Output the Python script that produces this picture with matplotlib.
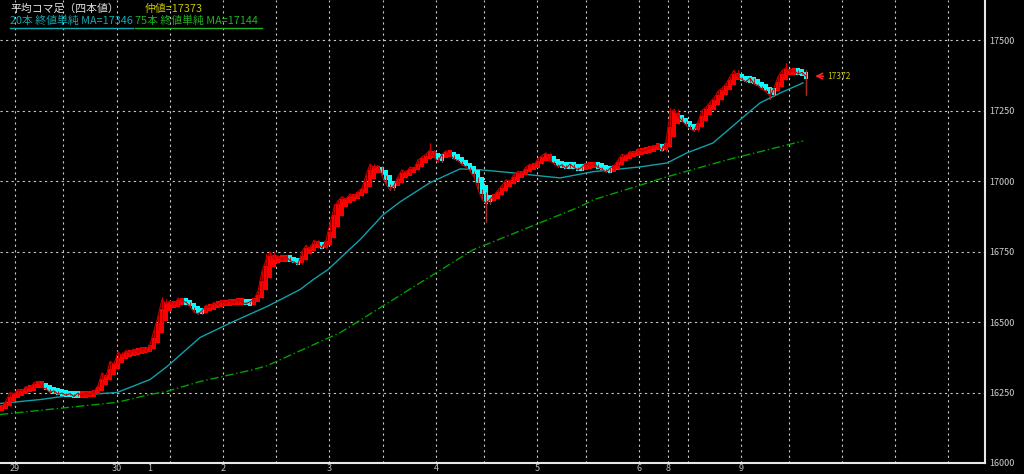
import matplotlib
matplotlib.use("Agg")
import matplotlib.pyplot as plt
from matplotlib.lines import Line2D

plt.rcParams['font.family'] = ['Noto Sans CJK JP', 'DejaVu Sans']

# raw closing prices, one per bar (thin red line)
closes = [
    16200, 16220, 16250, 16245, 16262, 16255, 16272, 16265, 16285, 16290,
    16268, 16262, 16250, 16256, 16244, 16248, 16240, 16246, 16236, 16248,
    16238, 16250, 16242, 16255, 16275, 16320, 16305, 16360, 16350, 16395,
    16380, 16400, 16388, 16405, 16392, 16410, 16398, 16420, 16470, 16520,
    16580, 16565, 16575, 16560, 16585, 16575, 16570, 16555, 16535, 16528,
    16540, 16560, 16552, 16570, 16562, 16575, 16565, 16578, 16568, 16580,
    16570, 16565, 16572, 16580, 16610, 16680, 16720, 16750, 16722, 16735,
    16720, 16732, 16718, 16712, 16705, 16750, 16772, 16760, 16790, 16778,
    16762, 16790, 16850, 16905, 16930, 16945, 16935, 16955, 16945, 16962,
    16975, 17020, 17060, 17045, 17055, 17020, 16990, 16968, 16985, 17015,
    17040, 17030, 17050, 17045, 17075, 17085, 17095, 17110, 17085, 17068,
    17095, 17108, 17092, 17078, 17072, 17058, 17050, 17035, 17015, 16970,
    16935, 16920, 16935, 16950, 16968, 16985, 17005, 17000, 17025, 17035,
    17030, 17050, 17060, 17055, 17080, 17090, 17100, 17070, 17062, 17050,
    17058, 17045, 17060, 17048, 17040, 17050, 17062, 17055, 17062, 17048,
    17042, 17032, 17045, 17055, 17075, 17095, 17090, 17105, 17100, 17115,
    17105, 17112, 17118, 17125, 17128, 17108, 17140, 17240, 17255, 17228,
    17212, 17198, 17185, 17178, 17210, 17250, 17262, 17280, 17295, 17318,
    17330, 17345, 17370, 17392, 17368, 17360, 17352, 17365, 17345, 17338,
    17325, 17318, 17300, 17330, 17370, 17392, 17402, 17388, 17392, 17380,
    17385, 17372,
]
# long shadows seen on a few bars: bar -> (high, low)
wicks = {121: (16960, 16855), 192: (17330, 17290), 201: (17395, 17305),
         83: (16920, 16840), 167: (17260, 17130), 40: (16590, 16500),
         107: (17135, 17090), 196: (17420, 17380), 66: (16740, 16650)}

ma20_bar = [-0.5, 9.5, 15.25, 24.5, 28.75, 37, 41.25, 49.5, 57.75, 66.25, 74.5,
            77.75, 81.5, 89.5, 95.25, 99.5, 107, 114.5, 119.5, 127.75, 132,
            139.5, 147.75, 159.5, 166.25, 171.25, 177.75, 184.5, 189.5, 194.5, 200.25]
ma20_val = [16211, 16225, 16236, 16246, 16250, 16296, 16342, 16445, 16501, 16555, 16615,
            16650, 16686, 16792, 16880, 16926, 16994, 17043, 17040, 17029, 17022,
            17011, 17033, 17050, 17064, 17100, 17135, 17217, 17277, 17312, 17348]
ma75_bar = [-0.5, 28.75, 37, 41.25, 49.5, 62.75, 66.25, 84.5, 117.75, 144.5, 147.75,
            166.25, 181.25, 200.25]
ma75_val = [16172, 16215, 16243, 16254, 16289, 16331, 16345, 16462, 16756, 16909, 16933,
            17015, 17075, 17142]

grid_bars = [3.25, 15.25, 28.75, 42, 55.25, 68.5, 81.75, 95.25, 108.5, 120.5, 133.75,
             146, 159.25, 166.5, 171.5, 184.75, 196.75, 210, 223.25, 236.5]
date_bars = [3.25, 28.75, 37, 55.25, 81.75, 108.5, 133.75, 159.25, 166.5, 184.75]
date_labels = ["29", "30", "1", "2", "3", "4", "5", "6", "8", "9"]
yticks = [16000, 16250, 16500, 16750, 17000, 17250, 17500]
last_price = 17372

# heikin-ashi from the raw bars
n = len(closes)
o = [closes[0] - 10] + closes[:-1]
h = [max(a, b) for a, b in zip(o, closes)]
l = [min(a, b) for a, b in zip(o, closes)]
for i, (hi, lo) in wicks.items():
    h[i] = max(h[i], hi)
    l[i] = min(l[i], lo)
ha_c = [(o[i] + h[i] + l[i] + closes[i]) / 4 for i in range(n)]
ha_o = [(o[0] + closes[0]) / 2]
for i in range(1, n):
    ha_o.append((ha_o[i - 1] + ha_c[i - 1]) / 2)
ha_h = [max(h[i], ha_o[i], ha_c[i]) for i in range(n)]
ha_l = [min(l[i], ha_o[i], ha_c[i]) for i in range(n)]

fig = plt.figure(figsize=(10.24, 4.74), dpi=100, facecolor='black')
ax = fig.add_axes([0, 11 / 474, 985 / 1024, 463 / 474])
ax.set_facecolor('black')

for gy in yticks[1:]:
    ax.axhline(gy, color='#c8c8c8', lw=0.8, ls=(0, (2, 3)), zorder=1)
for gx in grid_bars:
    ax.axvline(gx, color='#c8c8c8', lw=0.8, ls=(0, (2, 3)), zorder=1)

xs = list(range(n))
cols = ['#ff0000' if ha_c[i] >= ha_o[i] else '#00ffff' for i in xs]
ax.vlines(xs, ha_l, ha_h, colors=cols, lw=0.9, zorder=3)
# keep flat bodies visible as small blocks, like the reference
mids = [(ha_o[i] + ha_c[i]) / 2 for i in xs]
heights = [max(abs(ha_c[i] - ha_o[i]), 24) for i in xs]
bottoms = [mids[i] - heights[i] / 2 for i in xs]
ax.bar(xs, heights, bottom=bottoms, width=1.0, color=cols, lw=0, zorder=3)

# raw bars: close line plus their shadows
ax.plot(xs, closes, color='#c00000', lw=0.8, zorder=4)
ax.vlines(xs, l, h, colors='#c00000', lw=0.6, zorder=4)
ax.plot(ma20_bar, ma20_val, color='#10a0a8', lw=1.0, zorder=2)
ax.plot(ma75_bar, ma75_val, color='#00a000', lw=1.0, ls=(0, (6, 2, 1, 2)), zorder=2)

ax.annotate('', xy=(n + 0.6, last_price), xytext=(n + 4.0, last_price),
            arrowprops=dict(arrowstyle='->', color='#ff2020', lw=1.2))
ax.text(n + 4.4, last_price, str(last_price), color='#c8c800', fontsize=6,
        va='center', ha='left')

ax.set_xlim(-0.5, 245.75)
ax.set_ylim(16000, 17642)
for s in ['top', 'left']:
    ax.spines[s].set_visible(False)
for s in ['right', 'bottom']:
    ax.spines[s].set_color('#e8e8e8')
    ax.spines[s].set_linewidth(1.5)
ax.yaxis.tick_right()
ax.set_yticks(yticks)
ax.set_yticklabels([str(v) for v in yticks])
ax.tick_params(axis='y', length=0, pad=3, labelsize=6.5, labelcolor='#d0d0d0')
ax.set_xticks(date_bars)
ax.set_xticklabels(date_labels)
ax.tick_params(axis='x', length=0, pad=1, labelsize=6.5, labelcolor='#c0c0c0')

fig.text(10 / 1024, 1 - 9 / 474, '平均コマ足（四本値）', color='#e0e0e0', fontsize=7.8, va='center')
fig.text(145 / 1024, 1 - 9 / 474, '仲値=17373', color='#c8c800', fontsize=7.8, va='center')
fig.text(10 / 1024, 1 - 21 / 474, '20本 終値単純 MA=17346', color='#10a8b0', fontsize=7.8, va='center')
fig.text(135 / 1024, 1 - 21 / 474, '75本 終値単純 MA=17144', color='#20b020', fontsize=7.8, va='center')
fig.add_artist(Line2D([10 / 1024, 133 / 1024], [1 - 28 / 474] * 2, color='#10a8b0', lw=1))
fig.add_artist(Line2D([135 / 1024, 262 / 1024], [1 - 28 / 474] * 2, color='#20b020', lw=1))

fig.savefig('out.png', dpi=100, facecolor='black')
